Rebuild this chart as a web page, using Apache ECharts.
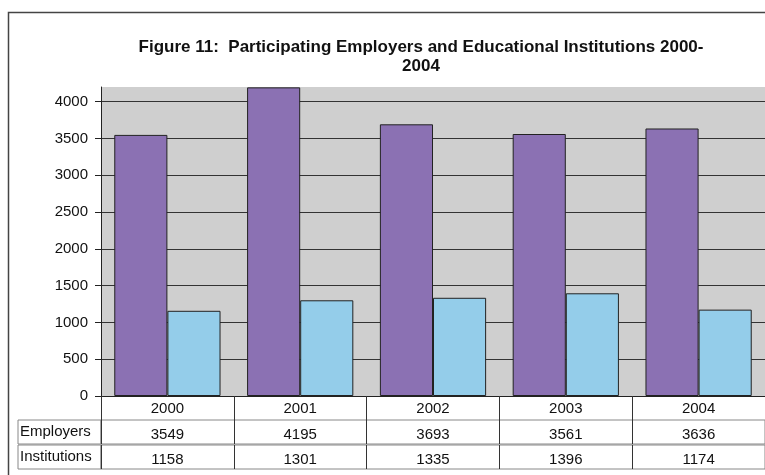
<!DOCTYPE html>
<html>
<head>
<meta charset="utf-8">
<script src="https://cdn.jsdelivr.net/npm/echarts@6/dist/echarts.min.js"></script>
<style>
  html, body { margin: 0; padding: 0; background: #fff; }
  #chart { width: 765px; height: 475px; }
</style>
</head>
<body>
<div id="chart"></div>
<script>
const years = ['2000', '2001', '2002', '2003', '2004'];
const employers = [3549, 4195, 3693, 3561, 3636];
const institutions = [1158, 1301, 1335, 1396, 1174];
const rowNames = ['Employers', 'Institutions'];

const chart = echarts.init(document.getElementById('chart'));
const font = 'Liberation Sans, Arial, sans-serif';

// table rows under the plot: one grid per row, labels cell separate
const plotLeft = 101, plotWidth = 668;
const rowTops = [420, 445];
const rowValues = [employers, institutions];

const grids = [
  { left: plotLeft, top: 87, width: plotWidth, height: 309,
    show: true, backgroundColor: '#cfcfcf', borderWidth: 0 }
];
const xAxes = [{
  type: 'category', gridIndex: 0, data: years,
  axisLine: { lineStyle: { color: '#222', width: 1 } },
  axisTick: { show: true, alignWithLabel: false, length: 24, lineStyle: { color: '#333' } },
  axisLabel: { color: '#111', fontSize: 15, fontFamily: font, margin: 5 }
}];
const yAxes = [{
  type: 'value', gridIndex: 0, min: 0, max: 4200, interval: 500,
  axisLine: { show: true, lineStyle: { color: '#222' } },
  axisTick: { show: true, length: 6, lineStyle: { color: '#222' } },
  axisLabel: { color: '#111', fontSize: 15, fontFamily: font, margin: 13, showMaxLabel: false,
    formatter: v => String(v) },
  splitLine: { show: true, lineStyle: {
    color: ['#333', '#333', '#333', '#333', '#333', '#333', '#333', '#333', '#333', '#cfcfcf'] } }
}];

rowTops.forEach((top, r) => {
  // values cells
  grids.push({ left: plotLeft, top: top, width: plotWidth, height: 24,
    show: true, borderColor: '#888', borderWidth: 1 });
  const gv = grids.length - 1;
  xAxes.push({
    type: 'category', gridIndex: gv, data: years,
    axisLine: { show: false },
    axisTick: { show: true, inside: true, alignWithLabel: false, length: 24, lineStyle: { color: '#333' } },
    axisLabel: { inside: true, margin: 2, color: '#111', fontSize: 15, fontFamily: font,
      formatter: (v, i) => String(rowValues[r][i]) }
  });
  yAxes.push({ type: 'value', gridIndex: gv, show: false });

  // label cell
  grids.push({ left: 18, top: top, width: plotLeft - 18, height: 24,
    show: true, borderColor: '#888', borderWidth: 1 });
  const gl = grids.length - 1;
  xAxes.push({ type: 'value', gridIndex: gl, show: false });
  yAxes.push({
    type: 'category', gridIndex: gl, data: [rowNames[r]],
    axisLine: { show: false }, axisTick: { show: false },
    axisLabel: { inside: true, margin: 2, color: '#111', fontSize: 15, fontFamily: font,
      padding: [3, 0, 0, 0] }
  });
});

chart.setOption({
  animation: false,
  backgroundColor: '#fff',
  title: {
    text: 'Figure 11:  Participating Employers and Educational Institutions 2000-\n2004',
    left: 416, top: 33, textAlign: 'center',
    textStyle: { fontFamily: font, fontSize: 17, fontWeight: 'bold', color: '#111', lineHeight: 19 }
  },
  graphic: [{
    type: 'rect', silent: true,
    shape: { x: 8.5, y: 12.5, width: 800, height: 500 },
    style: { fill: 'none', stroke: '#444', lineWidth: 1.5 }
  }],
  grid: grids,
  xAxis: xAxes,
  yAxis: yAxes,
  series: [
    { name: 'Employers', type: 'bar', xAxisIndex: 0, yAxisIndex: 0, data: employers,
      barGap: '0%', barCategoryGap: '20%',
      itemStyle: { color: '#8b71b3', borderColor: '#222', borderWidth: 1 } },
    { name: 'Institutions', type: 'bar', xAxisIndex: 0, yAxisIndex: 0, data: institutions,
      barGap: '0%', barCategoryGap: '20%',
      itemStyle: { color: '#94cdea', borderColor: '#222', borderWidth: 1 } }
  ]
});
</script>
</body>
</html>
